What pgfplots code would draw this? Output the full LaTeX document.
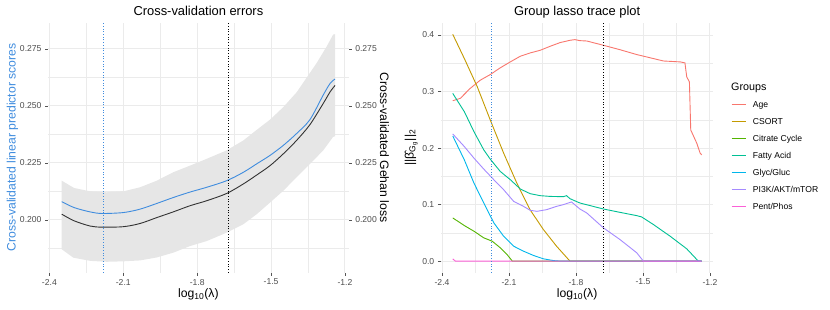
\documentclass[border=0pt]{standalone}
\usepackage{fontspec}
\setmainfont{Liberation Sans}
\usepackage{pgfplots}
\pgfplotsset{compat=1.18}
\usepgfplotslibrary{fillbetween}

\definecolor{gridc}{HTML}{EBEBEB}
\definecolor{labc}{HTML}{4D4D4D}
\definecolor{tickc}{HTML}{555555}
\definecolor{bluec}{HTML}{3F8CDE}
\definecolor{ribc}{HTML}{E6E6E6}
\definecolor{linec}{HTML}{333333}
\definecolor{cAge}{HTML}{F8766D}
\definecolor{cCSORT}{HTML}{C49A00}
\definecolor{cCit}{HTML}{53B400}
\definecolor{cFat}{HTML}{00C094}
\definecolor{cGly}{HTML}{00B6EB}
\definecolor{cPI}{HTML}{A58AFF}
\definecolor{cPen}{HTML}{FB61D7}

\pgfplotsset{
  gg/.style={
    scale only axis,
    axis line style={draw=none},
    tick align=outside,
    major tick length=3pt,
    minor tick length=0pt,
    tick style={color=tickc, line width=0.5pt},
    grid=both,
    major grid style={color=gridc, line width=0.9pt},
    minor grid style={color=gridc, line width=0.45pt},
    tick label style={font=\fontsize{8.6}{10}\selectfont, color=labc},
    xtick={-2.4,-2.1,-1.8,-1.5,-1.2},
    xticklabels={-2.4,-2.1,-1.8,-1.5,-1.2},
    minor xtick={-2.25,-1.95,-1.65,-1.35},
    xmin=-2.4055, xmax=-1.1845,
    every axis title/.style={at={(0.5,1.03)}, anchor=base, font=\fontsize{12.9}{14}\selectfont},
    every axis x label/.style={at={(0.5,-0.1)}, anchor=base, font=\fontsize{12.2}{14}\selectfont},
    vdot/.style={line width=0.85pt, dash pattern=on 0.9pt off 1.8pt, forget plot},
  }
}

\begin{document}
\begin{tikzpicture}
\path (0,0) rectangle (830pt,309pt);

% ---------- left panel ----------
\begin{axis}[gg, at={(48.05pt,36.5pt)}, anchor=south west,
  width=300.7pt, height=250pt,
  ymin=0.1769, ymax=0.2866,
  ytick={0.2,0.225,0.25,0.275}, yticklabels={0.200,0.225,0.250,0.275},
  minor ytick={0.1875,0.2125,0.2375,0.2625},
  tick pos=left,
  title={Cross-validation errors},
  xlabel={log\textsubscript{10}(λ)},
  ylabel={Cross-validated linear predictor scores},
  every axis y label/.style={at={(-0.108,0.5)}, rotate=90, anchor=base, color=bluec, font=\fontsize{12.2}{14}\selectfont},
]
\addplot[name path=up, draw=none, forget plot] coordinates {
(-2.35,0.2172) (-2.30,0.2140) (-2.234,0.2125) (-2.167,0.2121) (-2.10,0.2125)
(-2.032,0.2143) (-1.964,0.2172) (-1.897,0.2209) (-1.829,0.2238) (-1.761,0.2268)
(-1.680,0.2305) (-1.612,0.2349) (-1.558,0.2395) (-1.504,0.2440) (-1.450,0.2495)
(-1.396,0.2560) (-1.315,0.2688) (-1.274,0.2761) (-1.248,0.2813) (-1.240,0.2815)};
\addplot[name path=lo, draw=none, forget plot] coordinates {
(-2.35,0.1871) (-2.303,0.1834) (-2.234,0.1820) (-2.167,0.1816) (-2.10,0.1818)
(-2.032,0.1822) (-1.964,0.1835) (-1.897,0.1856) (-1.829,0.1885) (-1.761,0.1907)
(-1.680,0.1944) (-1.612,0.1981) (-1.558,0.2025) (-1.504,0.2076) (-1.450,0.2128)
(-1.396,0.2187) (-1.315,0.2275) (-1.288,0.2305) (-1.248,0.2364) (-1.240,0.2367)};
\addplot[fill=ribc, draw=none, forget plot] fill between[of=up and lo];
% Gehan loss (black)
\addplot[color=linec, line width=0.9pt, smooth, forget plot] coordinates {
(-2.35,0.2025) (-2.30,0.1996) (-2.235,0.1973) (-2.187,0.1968) (-2.10,0.1970)
(-2.032,0.1984) (-1.964,0.2010) (-1.897,0.2035) (-1.829,0.2062) (-1.761,0.2084)
(-1.680,0.2116) (-1.612,0.2158) (-1.558,0.2197) (-1.504,0.2238) (-1.450,0.2290)
(-1.396,0.2349) (-1.342,0.2418) (-1.288,0.2511) (-1.260,0.2562) (-1.240,0.2590)};
% linear predictor scores (blue)
\addplot[color=bluec, line width=0.9pt, smooth, forget plot] coordinates {
(-2.35,0.2080) (-2.30,0.2054) (-2.235,0.2035) (-2.187,0.2028) (-2.10,0.2032)
(-2.032,0.2047) (-1.964,0.2072) (-1.897,0.2098) (-1.829,0.2122) (-1.761,0.2143)
(-1.680,0.2172) (-1.612,0.2209) (-1.558,0.2246) (-1.504,0.2283) (-1.450,0.2327)
(-1.396,0.2379) (-1.342,0.2440) (-1.288,0.2548) (-1.260,0.2599) (-1.240,0.2618)};
\addplot[color=bluec, vdot] coordinates {(-2.18,0.1769) (-2.18,0.2866)};
\addplot[color=black, vdot] coordinates {(-1.675,0.1769) (-1.675,0.2866)};
\end{axis}

% right-hand ticks of left panel
\begin{axis}[gg, at={(48.05pt,36.5pt)}, anchor=south west,
  width=300.7pt, height=250pt,
  ymin=0.1769, ymax=0.2866,
  grid=none, xtick=\empty, minor xtick=\empty, xticklabels={},
  ytick={0.2,0.225,0.25,0.275}, yticklabels={0.200,0.225,0.250,0.275},
  ytick pos=right, yticklabel pos=right,
  ylabel={Cross-validated Gehan loss},
  every axis y label/.style={at={(1.1041,0.5)}, rotate=-90, anchor=base, font=\fontsize{12.2}{14}\selectfont},
]
\addplot[draw=none, forget plot] coordinates {(-2.0,0.2) (-1.5,0.25)};
\end{axis}

% ---------- right panel ----------
\begin{axis}[gg, at={(440.8pt,36.5pt)}, anchor=south west,
  width=272.6pt, height=250pt,
  ymin=-0.0201, ymax=0.4221,
  ytick={0,0.1,0.2,0.3,0.4}, yticklabels={0.0,0.1,0.2,0.3,0.4},
  minor ytick={0.05,0.15,0.25,0.35},
  tick pos=left,
  title={Group lasso trace plot},
  xlabel={log\textsubscript{10}(λ)},
  ylabel={||\^{β}\textsubscript{G\textsubscript{g}}||\textsubscript{2}},
  every axis y label/.style={at={(-0.1001,0.5)}, rotate=90, anchor=base, font=\fontsize{12.2}{14}\selectfont},
]
\addplot[color=cAge, line width=0.9pt] coordinates {
(-2.352,0.2837) (-2.318,0.2880) (-2.274,0.3055) (-2.229,0.3200) (-2.184,0.3300)
(-2.139,0.3420) (-2.094,0.3525) (-2.049,0.3625) (-2.005,0.3683) (-1.960,0.3730)
(-1.916,0.3800) (-1.871,0.3866) (-1.826,0.3907) (-1.805,0.3918) (-1.782,0.3900)
(-1.752,0.3894) (-1.677,0.3818) (-1.603,0.3740) (-1.528,0.3654) (-1.453,0.3583)
(-1.408,0.3540) (-1.333,0.3524) (-1.312,0.3507) (-1.304,0.3260) (-1.292,0.3170)
(-1.286,0.2320) (-1.259,0.2086) (-1.244,0.1910) (-1.237,0.1880)};
\addplot[color=cCSORT, line width=0.9pt] coordinates {
(-2.352,0.4012) (-2.300,0.3583) (-2.242,0.3083) (-2.184,0.2497) (-2.124,0.1910)
(-2.065,0.1380) (-2.006,0.0911) (-1.946,0.0559) (-1.887,0.0264) (-1.827,0.0)
(-1.237,0.0)};
\addplot[color=cCit, line width=0.9pt] coordinates {
(-2.352,0.0765) (-2.300,0.0629) (-2.257,0.0529) (-2.213,0.0412) (-2.175,0.0352)
(-2.139,0.0236) (-2.109,0.0118) (-2.085,0.0) (-1.237,0.0)};
\addplot[color=cFat, line width=0.9pt] coordinates {
(-2.352,0.2967) (-2.300,0.2643) (-2.257,0.2290) (-2.213,0.1968) (-2.184,0.1804)
(-2.139,0.1586) (-2.094,0.1440) (-2.049,0.1275) (-2.005,0.1193) (-1.960,0.1158)
(-1.916,0.1145) (-1.857,0.1140) (-1.842,0.1158) (-1.827,0.1105) (-1.783,0.1029)
(-1.678,0.0923) (-1.603,0.0863) (-1.528,0.0805) (-1.506,0.0782) (-1.453,0.0647)
(-1.378,0.0440) (-1.304,0.0218) (-1.252,0.0) (-1.237,0.0)};
\addplot[color=cGly, line width=0.9pt] coordinates {
(-2.352,0.2215) (-2.300,0.1790) (-2.257,0.1380) (-2.213,0.1029) (-2.168,0.0677)
(-2.124,0.0440) (-2.079,0.0264) (-2.035,0.0176) (-1.990,0.0100) (-1.946,0.0041)
(-1.901,0.0010) (-1.870,0.0) (-1.237,0.0)};
\addplot[color=cPI, line width=0.9pt] coordinates {
(-2.352,0.2250) (-2.300,0.2026) (-2.257,0.1822) (-2.213,0.1628) (-2.168,0.1440)
(-2.124,0.1263) (-2.079,0.1057) (-2.035,0.0969) (-2.005,0.0899) (-1.975,0.0881)
(-1.931,0.0911) (-1.887,0.0969) (-1.857,0.0999) (-1.820,0.1047) (-1.783,0.0923)
(-1.752,0.0853) (-1.677,0.0588) (-1.603,0.0382) (-1.528,0.0148) (-1.498,0.0)
(-1.237,0.0)};
\addplot[color=cPen, line width=0.9pt] coordinates {
(-2.352,0.004) (-2.340,0.0) (-1.237,0.0)};
\addplot[color=bluec, vdot] coordinates {(-2.18,-0.0201) (-2.18,0.4221)};
\addplot[color=black, vdot] coordinates {(-1.675,-0.0201) (-1.675,0.4221)};
\end{axis}

% ---------- legend ----------
\node[anchor=base west, inner sep=0pt, font=\fontsize{10.75}{12}\selectfont] at (731pt,219pt) {Groups};
\foreach \c/\t [count=\i from 0] in {cAge/Age, cCSORT/CSORT, cCit/Citrate Cycle, cFat/Fatty Acid, cGly/Glyc\slash Gluc, cPI/PI3K\slash AKT\slash mTOR, cPen/Pent\slash Phos}{
  \pgfmathsetmacro{\yy}{204.7-17*\i}
  \draw[color=\c, line width=1.1pt] (731.7pt,\yy pt) -- (746pt,\yy pt);
  \node[anchor=base west, inner sep=0pt, font=\fontsize{8.6}{10}\selectfont] at (752.7pt,\yy pt-3.1pt) {\t};
}
\end{tikzpicture}
\end{document}
